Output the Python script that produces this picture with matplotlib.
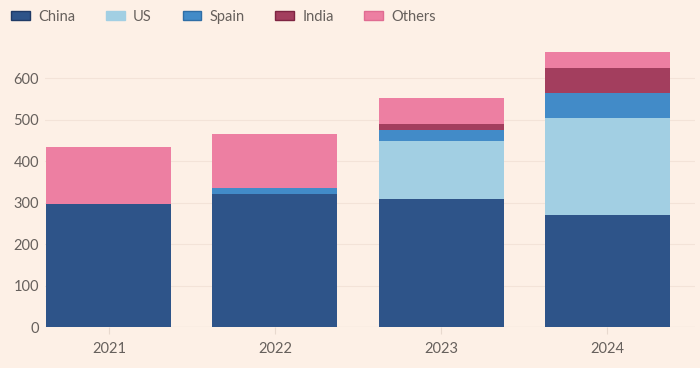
import numpy as np
import matplotlib.pyplot as plt
from matplotlib.patches import Patch

years = ['2021', '2022', '2023', '2024']
china = [297, 321, 309, 270]
us = [0, 0, 140, 234]
spain = [0, 14, 25, 60]
india = [0, 0, 16, 61]
others = [137, 130, 61, 37]

series = [('China', china, '#2E5489', '#1F3A66'),
          ('US', us, '#A2CFE3', '#A2CFE3'),
          ('Spain', spain, '#428BC8', '#2F6EA6'),
          ('India', india, '#A33E5E', '#7E2442'),
          ('Others', others, '#ED7FA2', '#E06C92')]

bg = '#FDF0E6'
txt = '#66605C'
plt.rcParams['font.family'] = ['Lato', 'DejaVu Sans']

fig = plt.figure(figsize=(7, 3.68), dpi=100, facecolor=bg)
ax = fig.add_axes([0.064, 0.111, 0.929, 0.767], facecolor=bg)

x = np.arange(len(years))
bottom = np.zeros(len(years))
for name, vals, col, edge in series:
    v = np.array(vals, dtype=float)
    ax.bar(x, v, width=0.753, bottom=bottom, color=col, linewidth=0, zorder=3)
    bottom += v

ax.set_xlim(-0.386, 3.53)
ax.set_ylim(0, 680)
ax.set_yticks(range(0, 700, 100))
ax.set_xticks(x)
ax.set_xticklabels(years)
ax.yaxis.grid(True, color='#F3E3D8', linewidth=0.8, zorder=0)
for s in ax.spines.values():
    s.set_visible(False)
ax.axhline(0, color='#E8D9CE', linewidth=0.8, zorder=1)
ax.tick_params(axis='y', length=0, labelsize=10.5, colors=txt, pad=4)
ax.tick_params(axis='x', length=5, color='#E8D9CE', labelsize=10.5, colors=txt, pad=6)

handles = [Patch(facecolor=c, edgecolor=e, linewidth=1, label=n) for n, _, c, e in series]
leg = fig.legend(handles=handles, loc='upper left', bbox_to_anchor=(0.008, 0.99), ncol=5,
                 frameon=False, fontsize=10.5, handlelength=1.3, handleheight=0.6,
                 handletextpad=0.55, columnspacing=2.1, borderaxespad=0)
for t in leg.get_texts():
    t.set_color(txt)

fig.savefig('out.png', dpi=100, facecolor=bg)
